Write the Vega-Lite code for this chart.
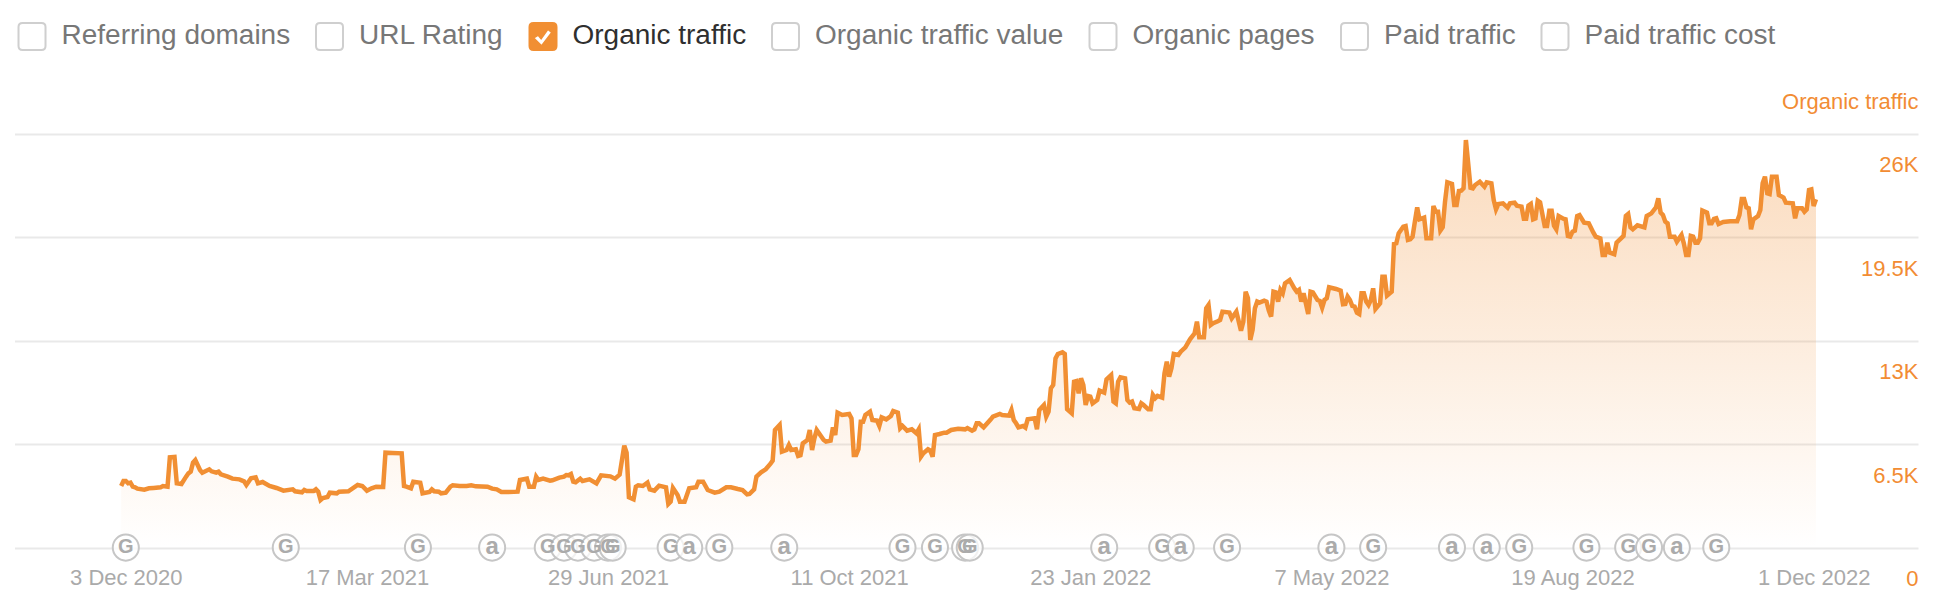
{"$schema":"https://vega.github.io/schema/vega-lite/v6.json","width":1903.5,"height":413.6,"autosize":"none","padding":{"left":14.5,"top":134,"right":22,"bottom":60.8},"background":"white",
"config":{"view":{"stroke":null},"font":"Liberation Sans"},
"datasets":{
"metrics":[{"metric":"Referring domains"},{"metric":"URL Rating"},{"metric":"Organic traffic"},{"metric":"Organic traffic value"},{"metric":"Organic pages"},{"metric":"Paid traffic"},{"metric":"Paid traffic cost"}],
"updates":[{"date":"2020-12-03","update":"G"},{"date":"2021-02-10","update":"G"},{"date":"2021-04-08","update":"G"},{"date":"2021-05-10","update":"a"},{"date":"2021-06-03","update":"G"},{"date":"2021-06-10","update":"G"},{"date":"2021-06-16","update":"G"},{"date":"2021-06-23","update":"G"},{"date":"2021-06-29","update":"G"},{"date":"2021-07-01","update":"G"},{"date":"2021-07-26","update":"G"},{"date":"2021-08-03","update":"a"},{"date":"2021-08-16","update":"G"},{"date":"2021-09-13","update":"a"},{"date":"2021-11-03","update":"G"},{"date":"2021-11-17","update":"G"},{"date":"2021-11-30","update":"G"},{"date":"2021-12-02","update":"G"},{"date":"2022-01-29","update":"a"},{"date":"2022-02-23","update":"G"},{"date":"2022-03-03","update":"a"},{"date":"2022-03-23","update":"G"},{"date":"2022-05-07","update":"a"},{"date":"2022-05-25","update":"G"},{"date":"2022-06-28","update":"a"},{"date":"2022-07-13","update":"a"},{"date":"2022-07-27","update":"G"},{"date":"2022-08-25","update":"G"},{"date":"2022-09-12","update":"G"},{"date":"2022-09-21","update":"G"},{"date":"2022-10-03","update":"a"},{"date":"2022-10-20","update":"G"}],
"traffic":[
{"date":"2020-12-01","v":3872},{"date":"2020-12-02","v":4187},{"date":"2020-12-03","v":4187},{"date":"2020-12-04","v":4040},{"date":"2020-12-05","v":4082},{"date":"2020-12-06","v":3830},{"date":"2020-12-07","v":3788},{"date":"2020-12-08","v":3705},{"date":"2020-12-11","v":3642},{"date":"2020-12-13","v":3726},{"date":"2020-12-15","v":3747},{"date":"2020-12-18","v":3788},{"date":"2020-12-19","v":3872},{"date":"2020-12-21","v":3830},{"date":"2020-12-22","v":5674},{"date":"2020-12-24","v":5695},{"date":"2020-12-25","v":4040},{"date":"2020-12-27","v":3998},{"date":"2020-12-29","v":4459},{"date":"2020-12-30","v":4669},{"date":"2020-12-31","v":4773},
{"date":"2021-01-01","v":5339},{"date":"2021-01-02","v":5507},{"date":"2021-01-04","v":4878},{"date":"2021-01-05","v":4710},{"date":"2021-01-08","v":4920},{"date":"2021-01-09","v":4794},{"date":"2021-01-11","v":4710},{"date":"2021-01-12","v":4773},{"date":"2021-01-13","v":4606},{"date":"2021-01-16","v":4459},{"date":"2021-01-18","v":4333},{"date":"2021-01-21","v":4291},{"date":"2021-01-23","v":4166},{"date":"2021-01-24","v":3935},{"date":"2021-01-26","v":4354},{"date":"2021-01-28","v":4417},{"date":"2021-01-29","v":4040},{"date":"2021-01-31","v":4124},
{"date":"2021-02-03","v":3872},{"date":"2021-02-06","v":3747},{"date":"2021-02-09","v":3579},{"date":"2021-02-13","v":3663},{"date":"2021-02-14","v":3537},{"date":"2021-02-17","v":3474},{"date":"2021-02-18","v":3621},{"date":"2021-02-19","v":3558},{"date":"2021-02-22","v":3558},{"date":"2021-02-23","v":3663},{"date":"2021-02-24","v":3516},{"date":"2021-02-25","v":2992},{"date":"2021-02-26","v":3118},{"date":"2021-02-28","v":3181},
{"date":"2021-03-01","v":3453},{"date":"2021-03-04","v":3411},{"date":"2021-03-05","v":3516},{"date":"2021-03-09","v":3537},{"date":"2021-03-13","v":3935},{"date":"2021-03-15","v":3872},{"date":"2021-03-17","v":3579},{"date":"2021-03-19","v":3726},{"date":"2021-03-21","v":3830},{"date":"2021-03-24","v":3809},{"date":"2021-03-25","v":5967},{"date":"2021-03-28","v":5946},
{"date":"2021-04-01","v":5925},{"date":"2021-04-02","v":3872},{"date":"2021-04-03","v":3830},{"date":"2021-04-05","v":3726},{"date":"2021-04-06","v":4145},{"date":"2021-04-09","v":4082},{"date":"2021-04-10","v":3411},{"date":"2021-04-13","v":3495},{"date":"2021-04-14","v":3663},{"date":"2021-04-15","v":3537},{"date":"2021-04-17","v":3516},{"date":"2021-04-18","v":3411},{"date":"2021-04-20","v":3453},{"date":"2021-04-22","v":3830},{"date":"2021-04-23","v":3914},{"date":"2021-04-26","v":3872},{"date":"2021-04-29","v":3872},
{"date":"2021-05-01","v":3914},{"date":"2021-05-03","v":3851},{"date":"2021-05-08","v":3830},{"date":"2021-05-10","v":3705},{"date":"2021-05-12","v":3663},{"date":"2021-05-14","v":3495},{"date":"2021-05-17","v":3495},{"date":"2021-05-21","v":3516},{"date":"2021-05-22","v":4250},{"date":"2021-05-25","v":4333},{"date":"2021-05-26","v":3830},{"date":"2021-05-28","v":3830},{"date":"2021-05-29","v":4459},{"date":"2021-05-30","v":4250},
{"date":"2021-06-01","v":4333},{"date":"2021-06-04","v":4208},{"date":"2021-06-05","v":4229},{"date":"2021-06-08","v":4397},{"date":"2021-06-10","v":4460},{"date":"2021-06-11","v":4564},{"date":"2021-06-12","v":4544},{"date":"2021-06-13","v":4627},{"date":"2021-06-14","v":4145},{"date":"2021-06-15","v":4103},{"date":"2021-06-17","v":4334},{"date":"2021-06-18","v":4187},{"date":"2021-06-21","v":4292},{"date":"2021-06-24","v":4040},{"date":"2021-06-26","v":4543},{"date":"2021-06-30","v":4480},
{"date":"2021-07-02","v":4334},{"date":"2021-07-04","v":4585},{"date":"2021-07-06","v":6408},{"date":"2021-07-07","v":5968},{"date":"2021-07-08","v":3160},{"date":"2021-07-10","v":3035},{"date":"2021-07-11","v":3831},{"date":"2021-07-12","v":3915},{"date":"2021-07-14","v":3873},{"date":"2021-07-16","v":4082},{"date":"2021-07-17","v":3663},{"date":"2021-07-19","v":3580},{"date":"2021-07-21","v":3894},{"date":"2021-07-24","v":3789},{"date":"2021-07-25","v":2742},{"date":"2021-07-26","v":2888},{"date":"2021-07-27","v":3747},{"date":"2021-07-29","v":3307},{"date":"2021-07-30","v":2888},
{"date":"2021-08-01","v":2888},{"date":"2021-08-03","v":3726},{"date":"2021-08-06","v":3789},{"date":"2021-08-07","v":4145},{"date":"2021-08-09","v":4145},{"date":"2021-08-11","v":3621},{"date":"2021-08-14","v":3454},{"date":"2021-08-16","v":3517},{"date":"2021-08-19","v":3789},{"date":"2021-08-21","v":3789},{"date":"2021-08-24","v":3684},{"date":"2021-08-26","v":3621},{"date":"2021-08-28","v":3349},{"date":"2021-08-29","v":3370},{"date":"2021-08-31","v":3663},
{"date":"2021-09-01","v":4460},{"date":"2021-09-03","v":4732},{"date":"2021-09-05","v":4920},{"date":"2021-09-07","v":5256},{"date":"2021-09-08","v":5465},{"date":"2021-09-09","v":7392},{"date":"2021-09-11","v":7707},{"date":"2021-09-12","v":6031},{"date":"2021-09-14","v":6135},{"date":"2021-09-15","v":6450},{"date":"2021-09-16","v":6135},{"date":"2021-09-18","v":6177},{"date":"2021-09-19","v":5758},{"date":"2021-09-20","v":5800},{"date":"2021-09-21","v":6555},{"date":"2021-09-23","v":6764},{"date":"2021-09-24","v":7392},{"date":"2021-09-25","v":6135},{"date":"2021-09-26","v":6869},{"date":"2021-09-27","v":7392},{"date":"2021-09-30","v":6764},
{"date":"2021-10-01","v":6659},{"date":"2021-10-03","v":6722},{"date":"2021-10-04","v":7560},{"date":"2021-10-05","v":7078},{"date":"2021-10-06","v":8482},{"date":"2021-10-08","v":8335},{"date":"2021-10-11","v":8398},{"date":"2021-10-12","v":8126},{"date":"2021-10-13","v":5821},{"date":"2021-10-14","v":5821},{"date":"2021-10-15","v":6177},{"date":"2021-10-16","v":7916},{"date":"2021-10-17","v":7916},{"date":"2021-10-18","v":8335},{"date":"2021-10-20","v":8545},{"date":"2021-10-21","v":8021},{"date":"2021-10-23","v":7979},{"date":"2021-10-24","v":7644},{"date":"2021-10-25","v":8189},{"date":"2021-10-27","v":8063},{"date":"2021-10-29","v":8272},{"date":"2021-10-30","v":8587},
{"date":"2021-11-01","v":8482},{"date":"2021-11-02","v":7497},{"date":"2021-11-03","v":7644},{"date":"2021-11-05","v":7351},{"date":"2021-11-07","v":7434},{"date":"2021-11-09","v":7183},{"date":"2021-11-10","v":7434},{"date":"2021-11-11","v":5717},{"date":"2021-11-12","v":5926},{"date":"2021-11-14","v":6177},{"date":"2021-11-15","v":6094},{"date":"2021-11-16","v":5717},{"date":"2021-11-17","v":7078},{"date":"2021-11-19","v":7141},{"date":"2021-11-21","v":7225},{"date":"2021-11-22","v":7225},{"date":"2021-11-24","v":7392},{"date":"2021-11-27","v":7476},{"date":"2021-11-30","v":7434},
{"date":"2021-12-01","v":7518},{"date":"2021-12-03","v":7351},{"date":"2021-12-04","v":7434},{"date":"2021-12-05","v":7811},{"date":"2021-12-06","v":7811},{"date":"2021-12-08","v":7560},{"date":"2021-12-11","v":8050},{"date":"2021-12-12","v":8232},{"date":"2021-12-15","v":8400},{"date":"2021-12-16","v":8337},{"date":"2021-12-19","v":8295},{"date":"2021-12-20","v":8651},{"date":"2021-12-21","v":8022},{"date":"2021-12-22","v":7813},{"date":"2021-12-23","v":7562},{"date":"2021-12-25","v":7645},{"date":"2021-12-26","v":7541},{"date":"2021-12-27","v":8064},{"date":"2021-12-30","v":8127},{"date":"2021-12-31","v":7436},
{"date":"2022-01-01","v":8651},{"date":"2022-01-03","v":8965},{"date":"2022-01-04","v":8232},{"date":"2022-01-05","v":8546},{"date":"2022-01-06","v":10013},{"date":"2022-01-07","v":10222},{"date":"2022-01-08","v":11898},{"date":"2022-01-09","v":12171},{"date":"2022-01-11","v":12275},{"date":"2022-01-12","v":12171},{"date":"2022-01-13","v":8693},{"date":"2022-01-15","v":8441},{"date":"2022-01-16","v":10432},{"date":"2022-01-17","v":10474},{"date":"2022-01-18","v":9699},{"date":"2022-01-19","v":10641},{"date":"2022-01-20","v":10222},{"date":"2022-01-21","v":8965},{"date":"2022-01-22","v":9531},{"date":"2022-01-23","v":9489},{"date":"2022-01-24","v":9070},{"date":"2022-01-26","v":9280},{"date":"2022-01-27","v":9866},{"date":"2022-01-29","v":9740},{"date":"2022-01-30","v":10578},
{"date":"2022-02-01","v":10851},{"date":"2022-02-02","v":9175},{"date":"2022-02-03","v":9070},{"date":"2022-02-04","v":10432},{"date":"2022-02-05","v":10704},{"date":"2022-02-07","v":10641},{"date":"2022-02-08","v":9280},{"date":"2022-02-09","v":9112},{"date":"2022-02-10","v":9175},{"date":"2022-02-11","v":8756},{"date":"2022-02-13","v":8714},{"date":"2022-02-14","v":9070},{"date":"2022-02-15","v":8965},{"date":"2022-02-17","v":8693},{"date":"2022-02-18","v":8693},{"date":"2022-02-19","v":9594},{"date":"2022-02-20","v":9384},{"date":"2022-02-21","v":9531},{"date":"2022-02-23","v":9426},{"date":"2022-02-24","v":10956},{"date":"2022-02-25","v":11689},{"date":"2022-02-26","v":10746},{"date":"2022-02-27","v":11270},{"date":"2022-02-28","v":12171},
{"date":"2022-03-02","v":12108},{"date":"2022-03-03","v":12319},{"date":"2022-03-05","v":12591},{"date":"2022-03-07","v":13094},{"date":"2022-03-09","v":13471},{"date":"2022-03-10","v":14204},{"date":"2022-03-11","v":13220},{"date":"2022-03-13","v":13220},{"date":"2022-03-14","v":15042},{"date":"2022-03-15","v":15252},{"date":"2022-03-16","v":13995},{"date":"2022-03-17","v":14100},{"date":"2022-03-19","v":14225},{"date":"2022-03-20","v":14309},{"date":"2022-03-21","v":14833},{"date":"2022-03-24","v":14770},{"date":"2022-03-25","v":14414},{"date":"2022-03-27","v":14833},{"date":"2022-03-29","v":13638},{"date":"2022-03-30","v":14204},{"date":"2022-03-31","v":16090},
{"date":"2022-04-01","v":15671},{"date":"2022-04-02","v":13052},{"date":"2022-04-03","v":13681},{"date":"2022-04-04","v":15042},{"date":"2022-04-05","v":15461},{"date":"2022-04-06","v":15398},{"date":"2022-04-08","v":15524},{"date":"2022-04-09","v":15461},{"date":"2022-04-10","v":14895},{"date":"2022-04-11","v":14518},{"date":"2022-04-12","v":16090},{"date":"2022-04-13","v":16048},{"date":"2022-04-14","v":15461},{"date":"2022-04-15","v":16195},{"date":"2022-04-16","v":15985},{"date":"2022-04-17","v":16613},{"date":"2022-04-19","v":16823},{"date":"2022-04-21","v":16299},{"date":"2022-04-22","v":16090},{"date":"2022-04-23","v":16195},{"date":"2022-04-24","v":15461},{"date":"2022-04-25","v":15985},{"date":"2022-04-27","v":14686},{"date":"2022-04-28","v":16090},{"date":"2022-04-29","v":16048},
{"date":"2022-05-01","v":15566},{"date":"2022-05-02","v":15503},{"date":"2022-05-03","v":15084},{"date":"2022-05-04","v":15566},{"date":"2022-05-05","v":15671},{"date":"2022-05-06","v":16362},{"date":"2022-05-09","v":16257},{"date":"2022-05-11","v":16152},{"date":"2022-05-12","v":15294},{"date":"2022-05-13","v":15315},{"date":"2022-05-14","v":15776},{"date":"2022-05-15","v":15566},{"date":"2022-05-16","v":15189},{"date":"2022-05-17","v":15147},{"date":"2022-05-18","v":14770},{"date":"2022-05-19","v":14686},{"date":"2022-05-20","v":15985},{"date":"2022-05-21","v":15985},{"date":"2022-05-22","v":15461},{"date":"2022-05-23","v":15252},{"date":"2022-05-24","v":15566},{"date":"2022-05-25","v":16299},{"date":"2022-05-26","v":15000},{"date":"2022-05-28","v":15356},{"date":"2022-05-29","v":17032},{"date":"2022-05-30","v":17032},{"date":"2022-05-31","v":15838},
{"date":"2022-06-02","v":16090},{"date":"2022-06-03","v":19086},{"date":"2022-06-04","v":19128},{"date":"2022-06-05","v":19756},{"date":"2022-06-07","v":20175},{"date":"2022-06-08","v":20217},{"date":"2022-06-09","v":19337},{"date":"2022-06-10","v":19379},{"date":"2022-06-11","v":19547},{"date":"2022-06-12","v":20489},{"date":"2022-06-13","v":21390},{"date":"2022-06-14","v":20636},{"date":"2022-06-16","v":20741},{"date":"2022-06-17","v":19442},{"date":"2022-06-19","v":19442},{"date":"2022-06-20","v":21474},{"date":"2022-06-21","v":21118},{"date":"2022-06-22","v":21118},{"date":"2022-06-23","v":19923},{"date":"2022-06-24","v":20133},{"date":"2022-06-25","v":21746},{"date":"2022-06-26","v":22961},{"date":"2022-06-28","v":22857},{"date":"2022-06-29","v":21537},{"date":"2022-06-30","v":21537},
{"date":"2022-07-01","v":22417},{"date":"2022-07-02","v":22438},{"date":"2022-07-03","v":22584},{"date":"2022-07-04","v":25622},{"date":"2022-07-05","v":24155},{"date":"2022-07-06","v":22626},{"date":"2022-07-07","v":22584},{"date":"2022-07-08","v":22794},{"date":"2022-07-10","v":23003},{"date":"2022-07-12","v":22689},{"date":"2022-07-13","v":22961},{"date":"2022-07-15","v":22898},{"date":"2022-07-16","v":21851},{"date":"2022-07-17","v":21264},{"date":"2022-07-18","v":21600},{"date":"2022-07-20","v":21641},{"date":"2022-07-22","v":21369},{"date":"2022-07-23","v":21641},{"date":"2022-07-25","v":21683},{"date":"2022-07-26","v":21495},{"date":"2022-07-28","v":21432},{"date":"2022-07-29","v":20678},{"date":"2022-07-30","v":20678},{"date":"2022-07-31","v":21495},
{"date":"2022-08-01","v":21600},{"date":"2022-08-02","v":20636},{"date":"2022-08-03","v":20699},{"date":"2022-08-04","v":21809},{"date":"2022-08-05","v":21704},{"date":"2022-08-07","v":20217},{"date":"2022-08-08","v":20217},{"date":"2022-08-09","v":21180},{"date":"2022-08-10","v":21180},{"date":"2022-08-11","v":20238},{"date":"2022-08-12","v":20007},{"date":"2022-08-13","v":20845},{"date":"2022-08-15","v":20678},{"date":"2022-08-16","v":20636},{"date":"2022-08-17","v":19588},{"date":"2022-08-18","v":19547},{"date":"2022-08-19","v":19861},{"date":"2022-08-20","v":19923},{"date":"2022-08-21","v":20845},{"date":"2022-08-22","v":20908},{"date":"2022-08-24","v":20426},{"date":"2022-08-26","v":20384},{"date":"2022-08-28","v":19798},{"date":"2022-08-29","v":19547},{"date":"2022-08-31","v":19442},
{"date":"2022-09-01","v":18394},{"date":"2022-09-02","v":18394},{"date":"2022-09-03","v":19169},{"date":"2022-09-04","v":18541},{"date":"2022-09-06","v":18436},{"date":"2022-09-07","v":19169},{"date":"2022-09-10","v":19588},{"date":"2022-09-11","v":20845},{"date":"2022-09-12","v":20971},{"date":"2022-09-13","v":20133},{"date":"2022-09-14","v":20007},{"date":"2022-09-16","v":20259},{"date":"2022-09-19","v":20133},{"date":"2022-09-20","v":20845},{"date":"2022-09-22","v":21013},{"date":"2022-09-24","v":21390},{"date":"2022-09-25","v":21956},{"date":"2022-09-26","v":21055},{"date":"2022-09-27","v":20908},{"date":"2022-09-28","v":20489},{"date":"2022-09-29","v":20384},{"date":"2022-09-30","v":19547},
{"date":"2022-10-02","v":19547},{"date":"2022-10-03","v":19232},{"date":"2022-10-05","v":19651},{"date":"2022-10-06","v":19127},{"date":"2022-10-07","v":18394},{"date":"2022-10-08","v":18394},{"date":"2022-10-09","v":19588},{"date":"2022-10-10","v":19547},{"date":"2022-10-11","v":19169},{"date":"2022-10-12","v":19169},{"date":"2022-10-13","v":19442},{"date":"2022-10-14","v":21180},{"date":"2022-10-16","v":21055},{"date":"2022-10-17","v":20384},{"date":"2022-10-18","v":20384},{"date":"2022-10-19","v":20657},{"date":"2022-10-20","v":20699},{"date":"2022-10-21","v":20343},{"date":"2022-10-23","v":20468},{"date":"2022-10-26","v":20510},{"date":"2022-10-29","v":20510},{"date":"2022-10-30","v":20908},{"date":"2022-10-31","v":21914},
{"date":"2022-11-01","v":21914},{"date":"2022-11-02","v":21390},{"date":"2022-11-03","v":21327},{"date":"2022-11-04","v":20007},{"date":"2022-11-05","v":20636},{"date":"2022-11-07","v":20845},{"date":"2022-11-08","v":21223},{"date":"2022-11-09","v":22899},{"date":"2022-11-10","v":23318},{"date":"2022-11-11","v":22270},{"date":"2022-11-12","v":22228},{"date":"2022-11-13","v":23318},{"date":"2022-11-15","v":23318},{"date":"2022-11-16","v":22165},{"date":"2022-11-18","v":21998},{"date":"2022-11-19","v":21683},{"date":"2022-11-22","v":21641},{"date":"2022-11-23","v":20699},{"date":"2022-11-24","v":21327},{"date":"2022-11-26","v":21327},{"date":"2022-11-27","v":21118},{"date":"2022-11-28","v":21264},{"date":"2022-11-29","v":22480},{"date":"2022-11-30","v":22521},
{"date":"2022-12-01","v":21474},{"date":"2022-12-02","v":21893}]
},
"layer":[
{"data":{"name":"traffic"},"mark":{"type":"area","color":{"gradient":"linear","x1":1,"y1":0,"x2":1,"y2":1,"stops":[{"offset":0,"color":"rgba(241,143,51,0.32)"},{"offset":1,"color":"rgba(241,143,51,0.0)"}]},"interpolate":"linear"},
"encoding":{"x":{"field":"date","type":"temporal","scale":{"type":"utc","domain":[{"year":2020,"month":"oct","date":16,"utc":true},{"year":2023,"month":"jan","date":15,"utc":true}]},
"axis":{"title":null,"grid":false,"ticks":false,"domain":false,"labelFontSize":22,"labelFont":"Liberation Sans","labelColor":"#AAAAAA","labelPadding":20,"labelOverlap":false,"labelFlush":false,"format":"%-d %b %Y",
"values":[{"year":2020,"month":"dec","date":3,"utc":true},{"year":2021,"month":"mar","date":17,"utc":true},{"year":2021,"month":"jun","date":29,"utc":true},{"year":2021,"month":"oct","date":11,"utc":true},{"year":2022,"month":"jan","date":23,"utc":true},{"year":2022,"month":"may","date":7,"utc":true},{"year":2022,"month":"aug","date":19,"utc":true},{"year":2022,"month":"dec","date":1,"utc":true}]}},
"y":{"field":"v","type":"quantitative","scale":{"domain":[0,26000],"nice":false},
"axis":{"orient":"right","title":"Organic traffic","titleAngle":0,"titleAlign":"right","titleBaseline":"middle","titleX":0,"titleY":-32,"titleFontSize":22,"titleFontWeight":"normal","titleFont":"Liberation Sans","titleColor":"#F28C33","grid":true,"gridColor":"#E9E9E9","gridWidth":2,"ticks":false,"domain":false,"values":[0,6500,13000,19500,26000],"labelExpr":"datum.value === 0 ? '0' : (datum.value / 1000) + 'K'","labelFontSize":22,"labelFont":"Liberation Sans","labelColor":"#F28C33","labelAlign":"right","labelPadding":0,"labelOffset":31,"labelOverlap":false,"labelFlush":false,"labelBaseline":"middle"}}}},
{"data":{"name":"traffic"},"mark":{"type":"line","color":"#F18F33","strokeWidth":4.5,"interpolate":"linear","strokeJoin":"miter"},
"encoding":{"x":{"field":"date","type":"temporal"},"y":{"field":"v","type":"quantitative"}}},
{"data":{"name":"updates"},"mark":{"type":"point","filled":true,"fill":"white","fillOpacity":0.75,"stroke":"#C6C6C6","strokeWidth":2,"strokeOpacity":1,"size":680},
"encoding":{"x":{"field":"date","type":"temporal"},"y":{"datum":0}}},
{"data":{"name":"updates"},"mark":{"type":"text","font":"Liberation Sans","fontWeight":"bold","color":"#ABABAB","baseline":"middle","dy":-1},
"encoding":{"x":{"field":"date","type":"temporal"},"y":{"datum":0},"text":{"field":"update"},"size":{"field":"update","type":"nominal","scale":{"domain":["G","a"],"range":[20,24]},"legend":null}}},
{"data":{"name":"metrics"},"transform":[{"filter":"false"}],"mark":{"type":"point","filled":true,"opacity":1},
"encoding":{
"color":{"field":"metric","type":"nominal","sort":null,"scale":{"domain":["Referring domains","URL Rating","Organic traffic","Organic traffic value","Organic pages","Paid traffic","Paid traffic cost"],"range":["#FFFFFF","#FFFFFF","#F18F33","#FFFFFF","#FFFFFF","#FFFFFF","#FFFFFF"]},
"legend":{"orient":"none","legendX":3,"legendY":-112,"direction":"horizontal","columns":7,"title":null,"symbolSize":729,"symbolStrokeWidth":2,"symbolOpacity":1,"labelFontSize":28,"labelFont":"Liberation Sans","labelLimit":400,"labelOffset":15,"columnPadding":21.5,"padding":0,"labelColor":{"expr":"datum.value === 'Organic traffic' ? '#2F2F2F' : '#777777'"}}},
"stroke":{"field":"metric","type":"nominal","sort":null,"scale":{"domain":["Referring domains","URL Rating","Organic traffic","Organic traffic value","Organic pages","Paid traffic","Paid traffic cost"],"range":["#CFCFCF","#CFCFCF","#F18F33","#CFCFCF","#CFCFCF","#CFCFCF","#CFCFCF"]},"legend":{"title":null}},
"shape":{"field":"metric","type":"nominal","sort":null,"scale":{"domain":["Referring domains","URL Rating","Organic traffic","Organic traffic value","Organic pages","Paid traffic","Paid traffic cost"],"range":["M-.7,-1H.7Q1,-1 1,-.7V.7Q1,1 .7,1H-.7Q-1,1 -1,.7V-.7Q-1,-1 -.7,-1Z","M-.7,-1H.7Q1,-1 1,-.7V.7Q1,1 .7,1H-.7Q-1,1 -1,.7V-.7Q-1,-1 -.7,-1Z","M-.7,-1H.7Q1,-1 1,-.7V.7Q1,1 .7,1H-.7Q-1,1 -1,.7V-.7Q-1,-1 -.7,-1ZM-.36,-.12L-.72,.1L-.1,.72L.68,-.3L.36,-.56L-.14,.14Z","M-.7,-1H.7Q1,-1 1,-.7V.7Q1,1 .7,1H-.7Q-1,1 -1,.7V-.7Q-1,-1 -.7,-1Z","M-.7,-1H.7Q1,-1 1,-.7V.7Q1,1 .7,1H-.7Q-1,1 -1,.7V-.7Q-1,-1 -.7,-1Z","M-.7,-1H.7Q1,-1 1,-.7V.7Q1,1 .7,1H-.7Q-1,1 -1,.7V-.7Q-1,-1 -.7,-1Z","M-.7,-1H.7Q1,-1 1,-.7V.7Q1,1 .7,1H-.7Q-1,1 -1,.7V-.7Q-1,-1 -.7,-1Z"]},"legend":{"title":null}}
}}
]}
